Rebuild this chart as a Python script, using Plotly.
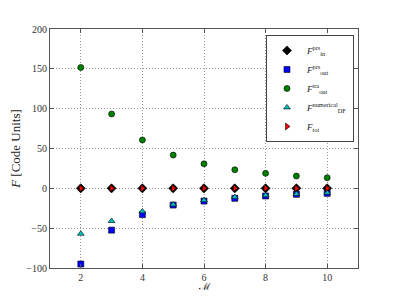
import plotly.graph_objects as go

M = [2, 3, 4, 5, 6, 7, 8, 9, 10]
F_in_prs = [0, 0, 0, 0, 0, 0, 0, 0, 0]
F_out_prs = [-95, -52.5, -33, -21, -16, -12.5, -9.6, -7.5, -6.3]
F_out_tra = [151.7, 93.3, 60.8, 41.7, 30.8, 23.3, 18.8, 15.4, 13.3]
F_DF_num = [-57, -41, -29, -20.4, -15, -11, -8.8, -7, -5.5]
F_tot = [0, 0, 0, 0, 0, 0, 0, 0, 0]

x_ticks = [2, 4, 6, 8, 10]
y_ticks = [-100, -50, 0, 50, 100, 150, 200]

FONT = "Liberation Serif"
edge = dict(color="black", width=0.6)

fig = go.Figure()
fig.add_trace(go.Scatter(x=M, y=F_in_prs, mode="markers", name="<i>F</i><sup>prs</sup><sub>in</sub>",
                         marker=dict(symbol="diamond", size=7, color="black", line=edge)))
fig.add_trace(go.Scatter(x=M, y=F_out_prs, mode="markers", name="<i>F</i><sup>prs</sup><sub>out</sub>",
                         marker=dict(symbol="square", size=6, color="#0000ff", line=edge)))
fig.add_trace(go.Scatter(x=M, y=F_out_tra, mode="markers", name="<i>F</i><sup>tra</sup><sub>out</sub>",
                         marker=dict(symbol="circle", size=6, color="#008000", line=edge)))
fig.add_trace(go.Scatter(x=M, y=F_DF_num, mode="markers", name="<i>F</i><sup>numerical</sup><sub>DF</sub>",
                         marker=dict(symbol="triangle-up", size=6, color="#00bfbf", line=edge)))
fig.add_trace(go.Scatter(x=M, y=F_tot, mode="markers", name="<i>F</i><sub>tot</sub>",
                         marker=dict(symbol="triangle-right", size=6, color="#ff0000", line=edge)))

axis_common = dict(
    showline=True, linecolor="#555555", linewidth=1.2, mirror="ticks",
    ticks="inside", ticklen=4, tickcolor="#555555",
    showgrid=True, gridcolor="#999999", griddash="1px,2px", gridwidth=0.8,
    zeroline=False, automargin=False,
    tickfont=dict(family=FONT, size=10, color="#333333"),
)

fig.update_layout(
    width=383, height=283,
    margin=dict(l=42, r=33, t=21, b=23),
    paper_bgcolor="white", plot_bgcolor="white",
    font=dict(family=FONT, color="#222222"),
    showlegend=True,
    legend=dict(x=0.987, y=0.975, xanchor="right", yanchor="top",
                bordercolor="#444444", borderwidth=1, bgcolor="white",
                font=dict(family=FONT, size=9), tracegroupgap=0,
                itemwidth=30),
    xaxis=dict(range=[1, 11], tickvals=x_ticks, **axis_common),
    yaxis=dict(range=[-100, 200], tickvals=y_ticks, **axis_common,
               title=dict(text="<i>F</i> [Code Units]", font=dict(family=FONT, size=13), standoff=6)),
    annotations=[dict(text="ℳ", x=0.5, y=0, xref="paper", yref="paper",
                      xanchor="center", yanchor="middle", yshift=-18, showarrow=False,
                      font=dict(family="DejaVu Serif", size=10, color="#222222"))],
)

fig.write_html("out.html")
